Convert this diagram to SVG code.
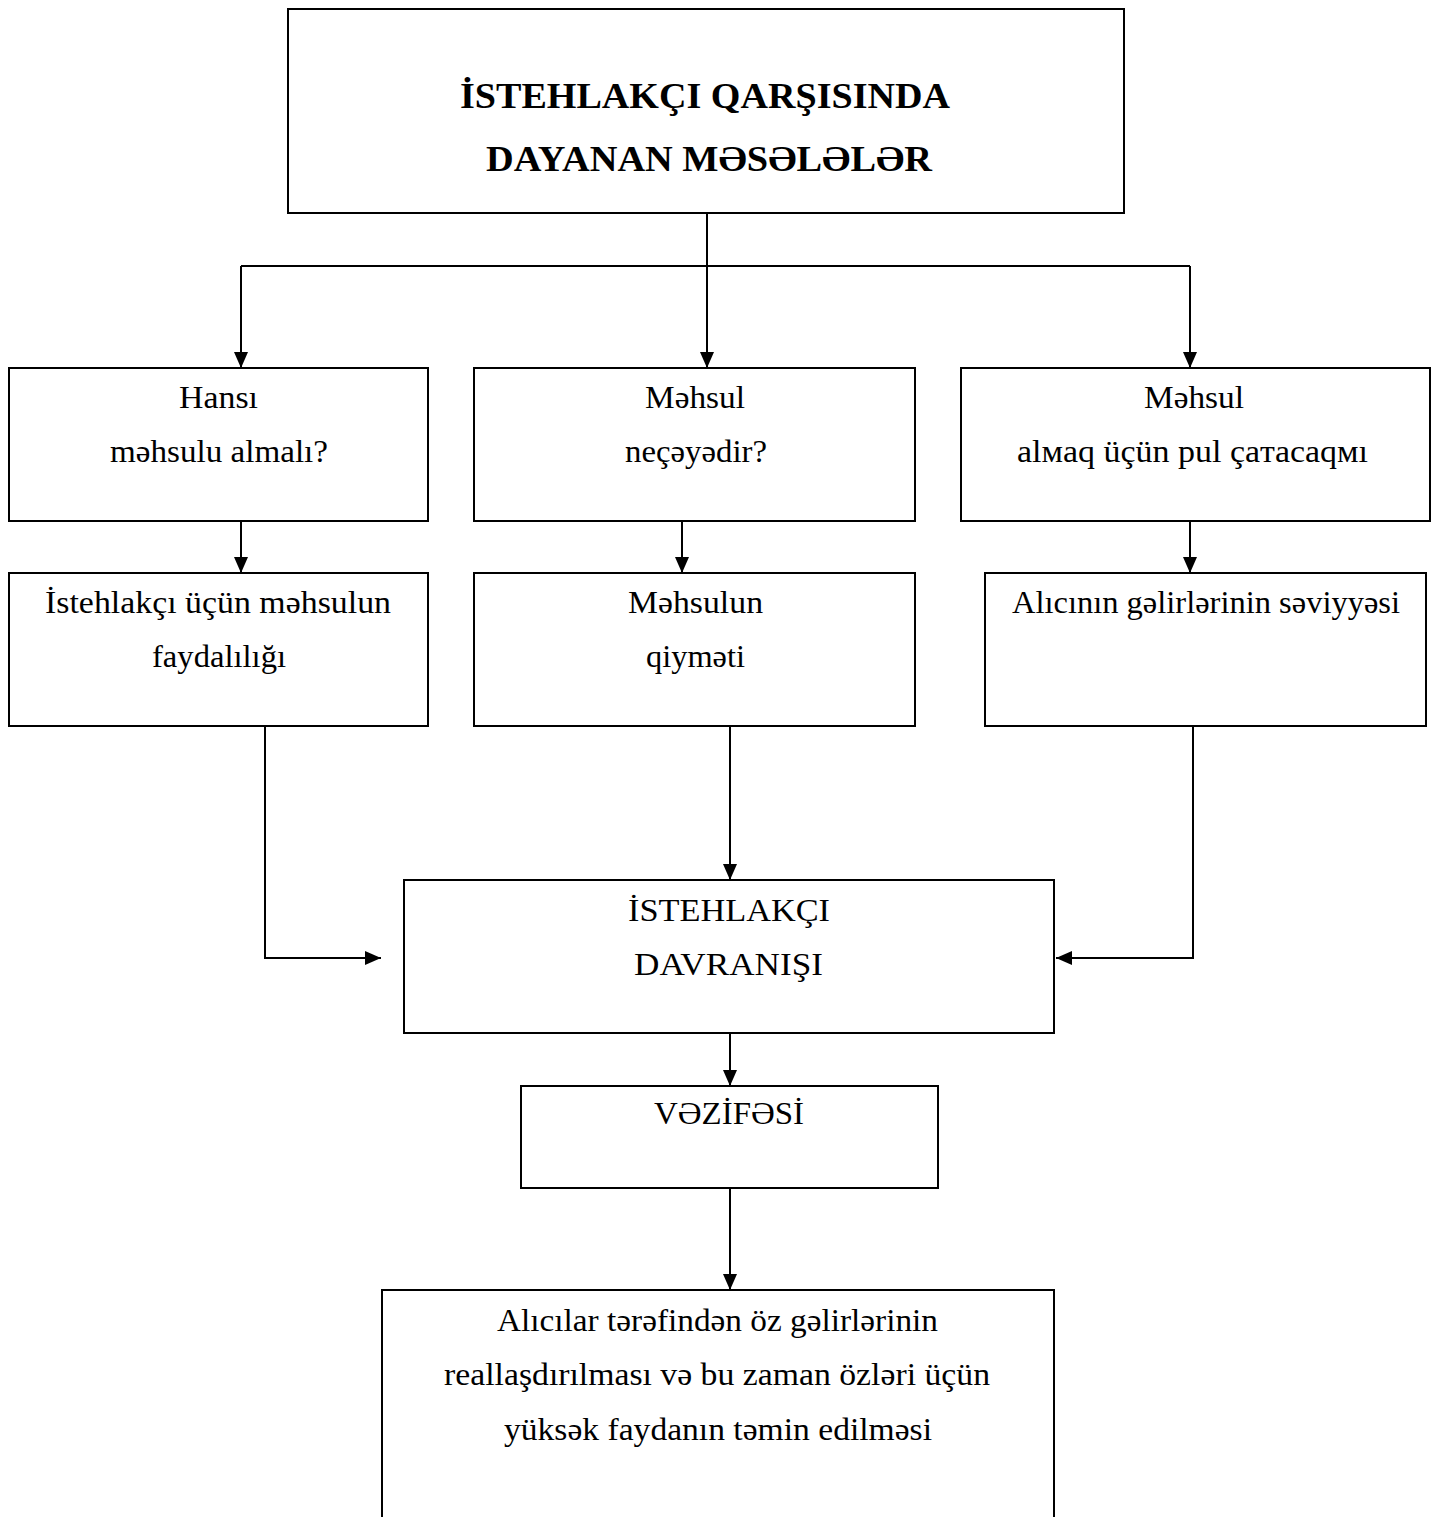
<svg xmlns="http://www.w3.org/2000/svg" width="1438" height="1517" viewBox="0 0 1438 1517">
<style>
.box{fill:#fff;stroke:#000;stroke-width:2}
.t{font-family:"Liberation Serif","Times New Roman",serif;font-size:31px;fill:#000}
.tb{font-family:"Liberation Serif","Times New Roman",serif;font-size:36px;font-weight:bold;fill:#000}
.c{fill:none;stroke:#000;stroke-width:2}
</style>
<defs>
<marker id="ah" markerWidth="16" markerHeight="14" refX="16" refY="7" orient="auto" markerUnits="userSpaceOnUse">
<path d="M0,0 L16,7 L0,14 Z" fill="#000"/>
</marker>
</defs>
<rect width="1438" height="1517" fill="#fff"/>
<g id="connectors">
<path class="c" d="M707,213 V266"/>
<path class="c" d="M241,266 H1190"/>
<path class="c" d="M241,266 V368" marker-end="url(#ah)"/>
<path class="c" d="M707,266 V368" marker-end="url(#ah)"/>
<path class="c" d="M1190,266 V368" marker-end="url(#ah)"/>
<path class="c" d="M241,521 V573" marker-end="url(#ah)"/>
<path class="c" d="M682,521 V573" marker-end="url(#ah)"/>
<path class="c" d="M1190,521 V573" marker-end="url(#ah)"/>
<path class="c" d="M265,726 V958 H381" marker-end="url(#ah)"/>
<path class="c" d="M730,726 V880" marker-end="url(#ah)"/>
<path class="c" d="M1193,726 V958 H1056" marker-end="url(#ah)"/>
<path class="c" d="M730,1033 V1086" marker-end="url(#ah)"/>
<path class="c" d="M730,1188 V1290" marker-end="url(#ah)"/>
</g>
<g id="top">
<rect class="box" x="288" y="9" width="836" height="204"/>
<text class="tb" x="460" y="108" textLength="490" lengthAdjust="spacingAndGlyphs">İSTEHLAKÇI QARŞISINDA</text>
<text class="tb" x="486" y="171" textLength="446" lengthAdjust="spacingAndGlyphs">DAYANAN MƏSƏLƏLƏR</text>
</g>
<g id="q1">
<rect class="box" x="9" y="368" width="419" height="153"/>
<text class="t" x="179" y="408" textLength="79" lengthAdjust="spacingAndGlyphs">Hansı</text>
<text class="t" x="110" y="462" textLength="218" lengthAdjust="spacingAndGlyphs">məhsulu almalı?</text>
</g>
<g id="q2">
<rect class="box" x="474" y="368" width="441" height="153"/>
<text class="t" x="645" y="408" textLength="100" lengthAdjust="spacingAndGlyphs">Məhsul</text>
<text class="t" x="625" y="462" textLength="142" lengthAdjust="spacingAndGlyphs">neçəyədir?</text>
</g>
<g id="q3">
<rect class="box" x="961" y="368" width="469" height="153"/>
<text class="t" x="1144" y="408" textLength="100" lengthAdjust="spacingAndGlyphs">Məhsul</text>
<text class="t" x="1017" y="462" textLength="351" lengthAdjust="spacingAndGlyphs">alмaq üçün pul çaтacaqмı</text>
</g>
<g id="f1">
<rect class="box" x="9" y="573" width="419" height="153"/>
<text class="t" x="45" y="613" textLength="346" lengthAdjust="spacingAndGlyphs">İstehlakçı üçün məhsulun</text>
<text class="t" x="152" y="667" textLength="134" lengthAdjust="spacingAndGlyphs">faydalılığı</text>
</g>
<g id="f2">
<rect class="box" x="474" y="573" width="441" height="153"/>
<text class="t" x="628" y="613" textLength="135" lengthAdjust="spacingAndGlyphs">Məhsulun</text>
<text class="t" x="646" y="667" textLength="99" lengthAdjust="spacingAndGlyphs">qiyməti</text>
</g>
<g id="f3">
<rect class="box" x="985" y="573" width="441" height="153"/>
<text class="t" x="1012" y="613" textLength="388" lengthAdjust="spacingAndGlyphs">Alıcının gəlirlərinin səviyyəsi</text>
</g>
<g id="behavior">
<rect class="box" x="404" y="880" width="650" height="153"/>
<text class="t" x="628" y="921" textLength="202" lengthAdjust="spacingAndGlyphs">İSTEHLAKÇI</text>
<text class="t" x="634" y="975" textLength="189" lengthAdjust="spacingAndGlyphs">DAVRANIŞI</text>
</g>
<g id="task">
<rect class="box" x="521" y="1086" width="417" height="102"/>
<text class="t" x="654" y="1124" textLength="150" lengthAdjust="spacingAndGlyphs">VƏZİFƏSİ</text>
</g>
<g id="result">
<rect class="box" x="382" y="1290" width="672" height="240"/>
<text class="t" x="497" y="1331" textLength="441" lengthAdjust="spacingAndGlyphs">Alıcılar tərəfindən öz gəlirlərinin</text>
<text class="t" x="444" y="1385" textLength="546" lengthAdjust="spacingAndGlyphs">reallaşdırılması və bu zaman özləri üçün</text>
<text class="t" x="504" y="1440" textLength="428" lengthAdjust="spacingAndGlyphs">yüksək faydanın təmin edilməsi</text>
</g>
</svg>
